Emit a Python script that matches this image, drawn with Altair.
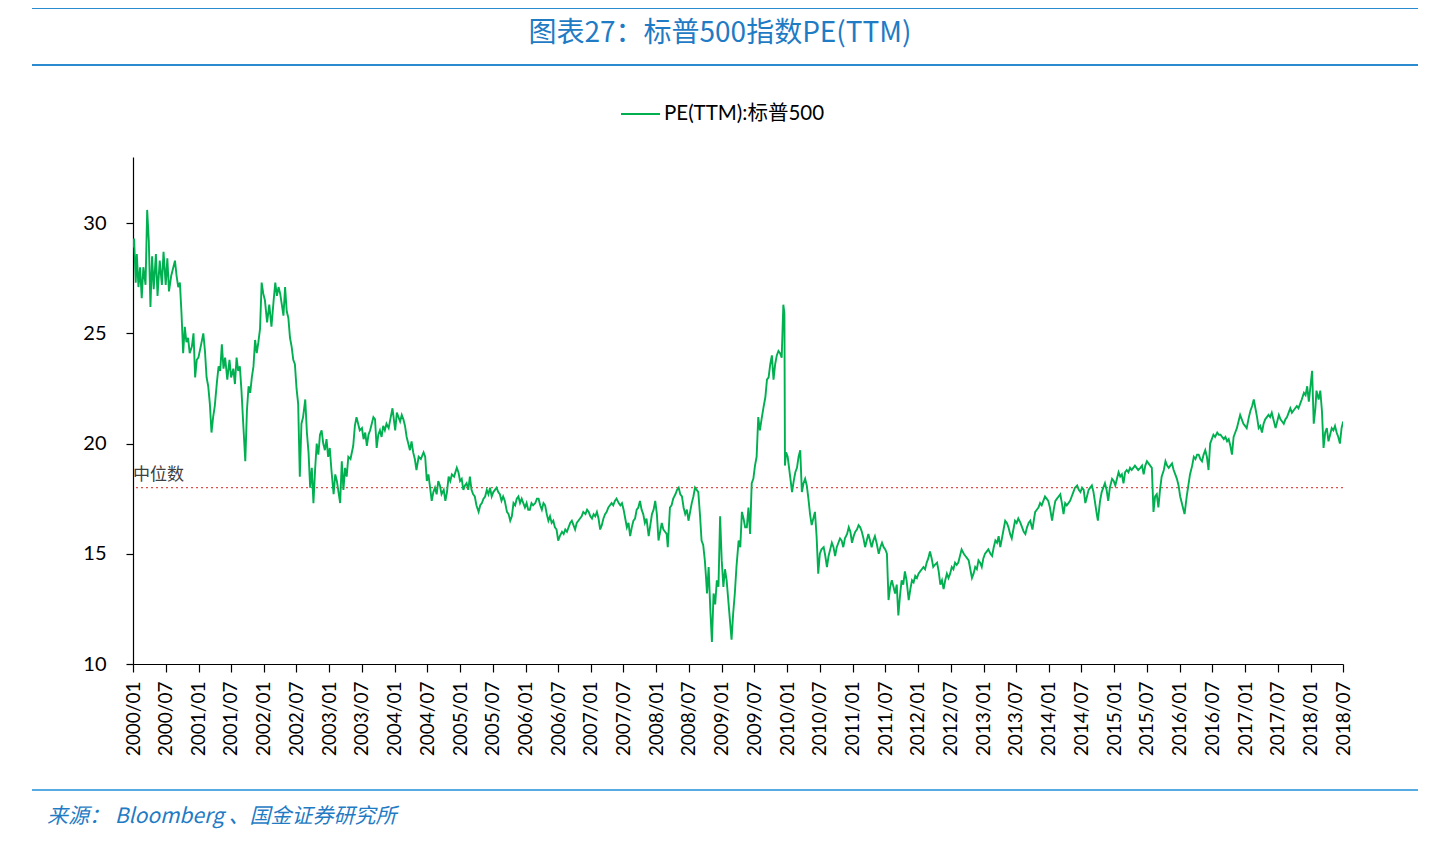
import altair as alt
import pandas as pd

# months elapsed since 2000/01 and PE(TTM)
months = [
    0.0, 0.2, 0.5, 0.7, 1.0, 1.3, 1.6, 1.9, 2.3, 2.6, 2.9, 3.2, 3.5, 3.8, 4.2, 4.5, 4.9, 5.3, 5.6, 6.0,
    6.3, 6.6, 7.0, 7.4, 7.7, 8.0, 8.3, 8.6, 8.9, 9.2, 9.5, 9.8, 10.1, 10.4, 10.8, 11.1, 11.4, 11.7, 12.0, 12.5,
    12.9, 13.2, 13.5, 13.8, 14.1, 14.4, 14.7, 15.0, 15.4, 15.7, 16.0, 16.3, 16.6, 16.9, 17.3, 17.7, 18.0, 18.4, 18.7, 19.0,
    19.3, 19.6, 19.9, 20.2, 20.6, 20.9, 21.2, 21.5, 21.8, 22.1, 22.4, 22.7, 23.0, 23.3, 23.6, 23.9, 24.2, 24.6, 25.0, 25.4,
    25.8, 26.1, 26.4, 26.7, 27.0, 27.3, 27.6, 27.9, 28.2, 28.5, 28.8, 29.1, 29.4, 29.7, 30.0, 30.3, 30.6, 30.9, 31.2, 31.6,
    31.9, 32.2, 32.5, 32.8, 33.1, 33.4, 33.7, 34.0, 34.3, 34.6, 34.9, 35.2, 35.5, 35.8, 36.1, 36.4, 36.8, 37.1, 37.4, 37.7,
    38.0, 38.3, 38.6, 38.9, 39.2, 39.5, 39.9, 40.4, 40.7, 41.0, 41.3, 41.6, 42.0, 42.3, 42.6, 42.9, 43.2, 43.5, 43.8, 44.1,
    44.4, 44.7, 45.0, 45.3, 45.6, 45.9, 46.2, 46.5, 46.9, 47.2, 47.6, 48.1, 48.4, 48.7, 49.0, 49.3, 49.6, 49.9, 50.2, 50.5,
    50.8, 51.1, 51.4, 51.7, 52.0, 52.4, 52.8, 53.3, 53.6, 53.9, 54.2, 54.5, 54.8, 55.1, 55.4, 55.7, 56.0, 56.3, 56.6, 57.0,
    57.3, 57.6, 57.9, 58.2, 58.5, 58.9, 59.4, 59.7, 60.0, 60.3, 60.6, 60.9, 61.2, 61.5, 61.8, 62.1, 62.4, 62.7, 63.0, 63.4,
    63.7, 64.0, 64.3, 64.6, 64.9, 65.2, 65.5, 65.8, 66.1, 66.4, 66.7, 67.0, 67.3, 67.6, 67.9, 68.2, 68.6, 68.9, 69.2, 69.5,
    69.8, 70.1, 70.4, 70.7, 71.0, 71.3, 71.6, 71.9, 72.2, 72.5, 72.8, 73.1, 73.4, 73.8, 74.1, 74.4, 74.7, 75.0, 75.3, 75.6,
    75.9, 76.2, 76.5, 76.8, 77.1, 77.4, 77.7, 78.0, 78.3, 78.7, 79.0, 79.3, 79.6, 79.9, 80.2, 80.5, 80.8, 81.1, 81.4, 81.7,
    82.0, 82.3, 82.6, 83.0, 83.3, 83.6, 83.9, 84.2, 84.5, 84.8, 85.1, 85.4, 85.7, 86.0, 86.3, 86.6, 86.9, 87.2, 87.5, 87.8,
    88.1, 88.4, 88.7, 89.1, 89.4, 89.7, 90.0, 90.3, 90.6, 90.9, 91.2, 91.5, 91.8, 92.1, 92.4, 92.7, 93.0, 93.3, 93.6, 93.9,
    94.2, 94.6, 94.9, 95.2, 95.5, 95.8, 96.1, 96.4, 96.7, 97.0, 97.3, 97.6, 97.9, 98.1, 98.5, 98.8, 99.1, 99.5, 99.8, 100.1,
    100.4, 100.7, 101.0, 101.3, 101.6, 101.9, 102.2, 102.5, 102.8, 103.1, 103.4, 103.7, 104.0, 104.3, 104.6, 104.9, 105.1, 105.3, 105.6, 105.9,
    106.2, 106.5, 106.8, 107.1, 107.4, 107.7, 108.0, 108.3, 108.6, 108.9, 109.1, 109.5, 109.8, 110.1, 110.4, 110.7, 111.1, 111.4, 111.7, 112.0,
    112.3, 112.6, 112.9, 113.2, 113.5, 113.8, 114.1, 114.4, 114.7, 115.0, 115.3, 115.7, 116.0, 116.3, 116.6, 116.9, 117.2, 117.5, 117.8, 118.1,
    118.4, 118.7, 119.0, 119.3, 119.5, 119.6, 119.8, 120.1, 120.5, 120.9, 121.2, 121.5, 121.8, 122.1, 122.4, 122.7, 123.0, 123.3, 123.6, 123.9,
    124.2, 124.5, 124.8, 125.1, 125.4, 125.7, 126.0, 126.3, 126.7, 127.0, 127.3, 127.6, 127.9, 128.2, 128.5, 128.8, 129.1, 129.4, 129.7, 130.0,
    130.3, 130.6, 131.0, 131.3, 131.6, 131.9, 132.2, 132.5, 132.8, 133.1, 133.4, 133.7, 134.0, 134.3, 134.6, 134.9, 135.2, 135.5, 135.8, 136.1,
    136.4, 136.8, 137.1, 137.4, 137.7, 138.0, 138.3, 138.6, 138.9, 139.2, 139.5, 139.8, 140.1, 140.4, 140.7, 141.0, 141.3, 141.6, 141.9, 142.3,
    142.6, 142.9, 143.2, 143.5, 143.8, 144.1, 144.4, 144.7, 145.0, 145.3, 145.6, 145.9, 146.2, 146.5, 146.8, 147.1, 147.5, 147.8, 148.1, 148.4,
    148.7, 149.0, 149.3, 149.6, 149.9, 150.2, 150.5, 150.8, 151.1, 151.4, 151.7, 152.0, 152.4, 152.7, 153.0, 153.3, 153.6, 153.9, 154.2, 154.5,
    154.8, 155.1, 155.4, 155.7, 156.0, 156.3, 156.6, 156.9, 157.3, 157.6, 157.9, 158.2, 158.5, 158.8, 159.1, 159.4, 159.7, 160.0, 160.3, 160.6,
    160.9, 161.2, 161.5, 161.8, 162.1, 162.4, 162.8, 163.1, 163.4, 163.7, 164.0, 164.3, 164.6, 165.0, 165.3, 165.5, 165.8, 166.1, 166.4, 166.7,
    167.0, 167.3, 167.6, 167.9, 168.2, 168.6, 168.9, 169.2, 169.5, 169.8, 170.1, 170.4, 170.7, 171.0, 171.3, 171.6, 171.9, 172.2, 172.5, 172.8,
    173.2, 173.5, 173.8, 174.1, 174.4, 174.7, 175.0, 175.3, 175.6, 175.9, 176.2, 176.5, 176.8, 177.0, 177.4, 177.7, 178.0, 178.3, 178.6, 178.9,
    179.2, 179.6, 179.9, 180.2, 180.5, 180.8, 181.1, 181.4, 181.7, 182.0, 182.3, 182.6, 182.9, 183.2, 183.5, 183.8, 184.1, 184.4, 184.8, 185.1,
    185.4, 185.7, 186.0, 186.3, 186.6, 186.9, 187.2, 187.5, 187.8, 188.1, 188.4, 188.7, 189.1, 189.4, 189.7, 190.0, 190.3, 190.6, 190.9, 191.2,
    191.5, 191.8, 192.1, 192.4, 192.7, 192.9, 193.3, 193.6, 193.9, 194.3, 194.6, 194.9, 195.2, 195.5, 195.8, 196.1, 196.4, 196.7, 197.0, 197.3,
    197.6, 197.9, 198.2, 198.5, 198.9, 199.2, 199.5, 199.8, 200.1, 200.4, 200.7, 201.0, 201.3, 201.6, 201.9, 202.2, 202.5, 202.8, 203.1, 203.4,
    203.7, 204.0, 204.3, 204.7, 205.0, 205.3, 205.6, 205.9, 206.2, 206.5, 206.8, 207.1, 207.4, 207.7, 208.0, 208.3, 208.6, 208.9, 209.3, 209.6,
    209.9, 210.2, 210.5, 210.8, 211.1, 211.4, 211.7, 212.0, 212.3, 212.6, 212.9, 213.2, 213.5, 213.8, 214.1, 214.4, 214.8, 215.1, 215.4, 215.7,
    216.0, 216.3, 216.6, 216.9, 217.1, 217.5, 217.8, 218.1, 218.4, 218.7, 219.0, 219.3, 219.6, 219.9, 220.2, 220.5, 220.8, 221.1, 221.4, 221.7,
    222.0,
]

pe = [
    28.9, 29.3, 27.3, 28.6, 27.1, 28.0, 26.6, 28.0, 27.2, 30.6, 29.2, 26.2, 28.5, 27.0, 28.6, 26.7, 28.3, 27.2, 28.7, 27.2,
    28.4, 26.9, 27.6, 28.0, 28.3, 27.6, 27.1, 27.3, 25.9, 24.1, 25.3, 24.6, 24.8, 24.1, 24.4, 25.0, 23.0, 23.8, 23.9, 24.5,
    25.0, 24.2, 23.0, 22.6, 21.8, 20.5, 21.2, 21.7, 22.8, 23.5, 23.3, 24.5, 23.4, 23.9, 22.9, 23.8, 23.0, 23.4, 22.7, 23.9,
    23.3, 23.5, 22.4, 21.0, 19.2, 21.5, 22.6, 22.3, 23.0, 23.5, 24.7, 24.1, 24.6, 25.2, 27.3, 26.8, 26.5, 25.5, 26.3, 25.3,
    26.5, 27.3, 26.7, 27.1, 26.8, 26.3, 25.8, 27.1, 26.0, 25.7, 24.8, 24.4, 23.8, 23.6, 22.5, 21.8, 18.5, 20.9, 21.2, 22.0,
    20.5, 19.6, 18.0, 18.9, 17.3, 18.8, 20.0, 19.5, 20.4, 20.6, 20.0, 19.7, 20.2, 19.4, 19.8, 18.8, 17.7, 18.6, 18.3, 17.8,
    17.3, 19.2, 17.9, 18.9, 18.5, 19.4, 19.3, 19.9, 20.8, 21.2, 20.9, 20.6, 20.7, 20.2, 20.5, 19.9, 20.4, 20.6, 20.9, 21.2,
    21.1, 19.8, 20.4, 20.6, 20.3, 20.8, 20.6, 20.9, 20.7, 21.1, 21.6, 20.6, 21.4, 21.2, 21.0, 21.3, 21.1, 20.8, 20.3, 20.0,
    19.7, 20.1, 19.6, 19.3, 18.8, 19.4, 19.3, 19.6, 19.4, 18.3, 18.6, 18.0, 17.4, 17.8, 18.0, 17.7, 18.3, 18.1, 17.7, 17.9,
    17.4, 17.8, 18.5, 18.3, 18.6, 18.5, 18.9, 18.7, 18.3, 18.4, 17.9, 18.1, 18.2, 17.9, 18.5, 17.9, 17.7, 17.6, 17.2, 16.9,
    17.2, 17.3, 17.5, 17.6, 17.9, 17.7, 18.0, 17.6, 17.8, 17.9, 18.0, 17.8, 17.7, 17.4, 17.6, 17.4, 16.9, 16.8, 16.5, 16.7,
    17.3, 17.2, 17.5, 17.6, 17.3, 17.5, 17.3, 17.1, 17.3, 17.0, 17.0, 17.3, 17.2, 17.3, 17.5, 17.5, 17.2, 17.0, 17.3, 17.2,
    16.8, 16.5, 16.7, 16.4, 16.5, 16.2, 16.1, 15.6, 15.8, 16.0, 15.9, 16.1, 16.0, 16.2, 16.4, 16.5, 16.3, 16.1, 16.4, 16.5,
    16.6, 16.7, 16.9, 16.8, 17.0, 16.9, 16.7, 16.6, 16.8, 16.7, 16.9, 16.6, 16.1, 16.3, 16.6, 16.8, 16.9, 17.1, 17.2, 17.3,
    17.2, 17.4, 17.5, 17.3, 17.2, 17.3, 17.0, 16.6, 16.2, 16.4, 15.8, 16.2, 16.5, 16.6, 17.0, 17.1, 17.4, 17.0, 16.8, 16.4,
    16.6, 15.8, 16.3, 16.8, 17.0, 17.4, 16.8, 15.6, 16.0, 16.4, 16.1, 16.0, 15.9, 15.3, 17.1, 17.2, 17.5, 17.7, 17.9, 18.0,
    17.7, 17.6, 17.1, 16.8, 17.0, 16.5, 16.9, 17.3, 17.6, 18.0, 17.9, 17.8, 16.8, 15.6, 15.4, 14.7, 14.0, 13.2, 14.4, 12.5,
    11.0, 13.2, 12.7, 13.8, 13.5, 16.7, 14.7, 13.5, 14.3, 13.8, 13.2, 12.0, 11.1, 12.3, 13.2, 14.4, 15.6, 15.3, 16.9, 16.6,
    16.2, 16.2, 17.1, 15.9, 18.2, 18.4, 19.0, 19.4, 21.2, 20.6, 21.1, 21.7, 22.1, 22.9, 23.0, 23.6, 24.0, 22.9, 23.6, 24.0,
    24.2, 24.1, 23.9, 26.3, 25.9, 19.0, 19.6, 19.4, 18.6, 17.8, 18.3, 18.7, 18.9, 19.4, 19.7, 17.8, 18.2, 18.4, 18.1, 17.5,
    16.8, 16.3, 16.6, 16.9, 15.8, 14.1, 15.0, 15.2, 15.3, 14.9, 14.4, 14.9, 15.2, 15.5, 15.3, 14.9, 15.3, 15.5, 15.7, 15.6,
    15.3, 15.7, 15.9, 16.2, 16.0, 15.5, 15.8, 16.0, 16.1, 16.3, 16.2, 16.0, 15.7, 15.3, 15.6, 15.9, 15.6, 15.3, 15.6, 15.8,
    15.5, 15.0, 15.3, 15.5, 15.3, 15.2, 15.0, 12.9, 13.5, 13.8, 13.5, 13.2, 13.6, 12.2, 13.1, 13.8, 13.6, 14.2, 13.8, 12.9,
    13.4, 13.8, 13.7, 14.0, 13.9, 14.1, 14.2, 14.3, 14.4, 14.3, 14.6, 14.8, 15.1, 14.8, 14.4, 14.5, 14.6, 14.2, 13.6, 13.8,
    13.4, 13.8, 14.1, 13.9, 14.1, 14.4, 14.3, 14.6, 14.5, 14.6, 14.9, 15.2, 15.0, 14.9, 14.8, 14.7, 14.3, 13.9, 14.1, 14.4,
    14.3, 14.7, 14.6, 14.4, 14.8, 15.0, 15.1, 15.2, 15.0, 14.9, 15.3, 15.6, 15.5, 15.8, 15.3, 15.7, 16.1, 16.5, 16.4, 16.2,
    15.9, 15.7, 16.1, 16.5, 16.4, 16.6, 16.4, 16.2, 16.0, 15.9, 16.2, 16.4, 16.5, 16.1, 16.6, 16.9, 17.0, 17.1, 17.3, 17.2,
    17.4, 17.6, 17.5, 17.4, 17.1, 16.5, 17.0, 17.4, 17.5, 17.6, 17.7, 17.3, 16.8, 17.3, 17.2, 17.3, 17.4, 17.6, 17.8, 18.0,
    18.1, 17.9, 17.8, 18.0, 17.9, 17.3, 17.6, 17.9, 18.0, 18.1, 17.8, 17.3, 16.8, 16.5, 17.4, 17.8, 18.0, 18.2, 17.9, 17.4,
    18.0, 18.4, 18.3, 18.1, 18.4, 18.7, 18.5, 18.6, 18.2, 18.7, 18.8, 18.7, 18.9, 18.8, 18.9, 19.0, 18.9, 18.8, 18.9, 19.0,
    18.6, 19.0, 19.2, 19.1, 19.0, 18.9, 16.9, 17.6, 17.7, 17.1, 17.9, 18.5, 18.8, 19.2, 19.0, 18.9, 19.0, 19.1, 18.8, 18.6,
    18.4, 18.1, 17.6, 17.3, 17.0, 16.8, 17.6, 18.1, 18.6, 19.0, 19.4, 19.3, 19.5, 19.5, 19.3, 19.2, 19.5, 19.7, 19.4, 18.8,
    20.0, 20.2, 20.4, 20.3, 20.5, 20.4, 20.4, 20.3, 20.2, 20.3, 20.1, 20.2, 19.9, 19.5, 20.3, 20.5, 20.7, 21.0, 21.3, 21.1,
    20.9, 20.8, 20.7, 21.2, 21.5, 21.7, 22.0, 21.6, 21.2, 20.7, 20.8, 20.5, 20.9, 21.1, 21.2, 21.3, 21.2, 21.4, 21.0, 20.7,
    21.0, 21.3, 21.1, 21.0, 20.9, 21.1, 21.2, 21.4, 21.6, 21.4, 21.5, 21.6, 21.7, 21.6, 21.8, 22.0, 22.3, 22.2, 22.6, 21.9,
    22.6, 23.3, 20.9, 21.6, 22.4, 22.0, 22.4, 21.5, 19.8, 20.5, 20.7, 20.1, 20.4, 20.7, 20.6, 20.8, 20.5, 20.3, 20.0, 20.7,
    21.0,
]

median_value = [18.0]
median_label = ["中位数"]
series_name = ["PE(TTM):标普500"]
title_text = ["图表27：标普500指数PE(TTM)"]
source_text = ["来源：  Bloomberg 、国金证券研究所"]
y_ticks = [10, 15, 20, 25, 30]
tick_years = list(range(2000, 2019))

GREEN = "#00B050"
BLUE = "#1F7BC4"
LATIN = "Lato, Noto Sans CJK SC"
CJK = "Noto Sans CJK SC"

dates = pd.Timestamp("2000-01-01") + pd.to_timedelta([m * 30.436875 for m in months], unit="D")
df = pd.DataFrame({"date": dates, "pe": pe})

x_ticks = [alt.DateTime(year=y, month=mo, date=1)
           for y in tick_years for mo in (1, 7) if not (y == 2018 and mo > 7)]

x_scale = alt.Scale(domain=[alt.DateTime(year=2000, month=1, date=1),
                            alt.DateTime(year=2018, month=7, date=1)], nice=False)
y_scale = alt.Scale(domain=[10, 33], nice=False, zero=False)

line = alt.Chart(df).mark_line(color=GREEN, strokeWidth=1.9, clip=True).encode(
    x=alt.X("date:T", scale=x_scale,
            axis=alt.Axis(values=x_ticks, format="%Y/%m", labelAngle=270, title=None,
                          labelFontSize=19, labelFont=LATIN, tickSize=8, labelPadding=9,
                          labelOverlap=False, labelFlush=False, grid=False)),
    y=alt.Y("pe:Q", scale=y_scale,
            axis=alt.Axis(values=y_ticks, title=None, labelFontSize=20, labelFont=LATIN,
                          tickSize=7, labelPadding=20, grid=False)),
)

med_df = pd.DataFrame({"m": median_value, "label": median_label})
median_rule = alt.Chart(med_df).mark_rule(color="#E0504A", strokeDash=[2, 3], strokeWidth=1.3).encode(
    y=alt.Y("m:Q", scale=y_scale)
)
median_text = alt.Chart(med_df).mark_text(align="left", baseline="bottom", dy=-4, fontSize=17,
                                          font=CJK, color="#404040").encode(
    x=alt.value(0), y=alt.Y("m:Q", scale=y_scale), text="label:N"
)

def deco_rule(x1, x2, y, color, width):
    return alt.Chart(pd.DataFrame({"k": [0]})).mark_rule(color=color, strokeWidth=width).encode(
        x=alt.value(x1), x2=alt.value(x2), y=alt.value(y)
    )

top_rule = deco_rule(-101, 1285, -149, "#2A8BD0", 2)
mid_rule = deco_rule(-101, 1285, -92, "#2A8BD0", 2)
foot_rule = deco_rule(-101, 1285, 633, "#1E90D8", 1.5)

title = alt.Chart(pd.DataFrame({"t": title_text})).mark_text(
    align="center", baseline="middle", fontSize=28, font=CJK, color=BLUE
).encode(x=alt.value(587), y=alt.value(-123), text="t:N")

legend_line = alt.Chart(pd.DataFrame({"k": [0]})).mark_rule(color=GREEN, strokeWidth=2).encode(
    x=alt.value(488), x2=alt.value(527), y=alt.value(-43)
)
legend_text = alt.Chart(pd.DataFrame({"t": series_name})).mark_text(
    align="left", baseline="middle", fontSize=20.5, font=LATIN, color="#000000"
).encode(x=alt.value(531), y=alt.value(-43), text="t:N")

source = alt.Chart(pd.DataFrame({"t": source_text})).mark_text(
    align="left", baseline="middle", fontSize=21, font=CJK, fontStyle="italic", color=BLUE
).encode(x=alt.value(-86), y=alt.value(660), text="t:N")

chart = alt.layer(
    median_rule, line, median_text, top_rule, mid_rule, foot_rule, title,
    legend_line, legend_text, source
).properties(
    width=1210, height=507,
    autosize=alt.AutoSizeParams(type="none"),
    padding={"left": 125, "top": 149, "right": 81, "bottom": 169},
).configure_view(stroke=None).configure_axis(
    domainColor="#000000", tickColor="#000000", labelColor="#000000", domainWidth=1.2, tickWidth=1.2
)

chart.save("out.html", embed_options={"renderer": "svg", "actions": False})
